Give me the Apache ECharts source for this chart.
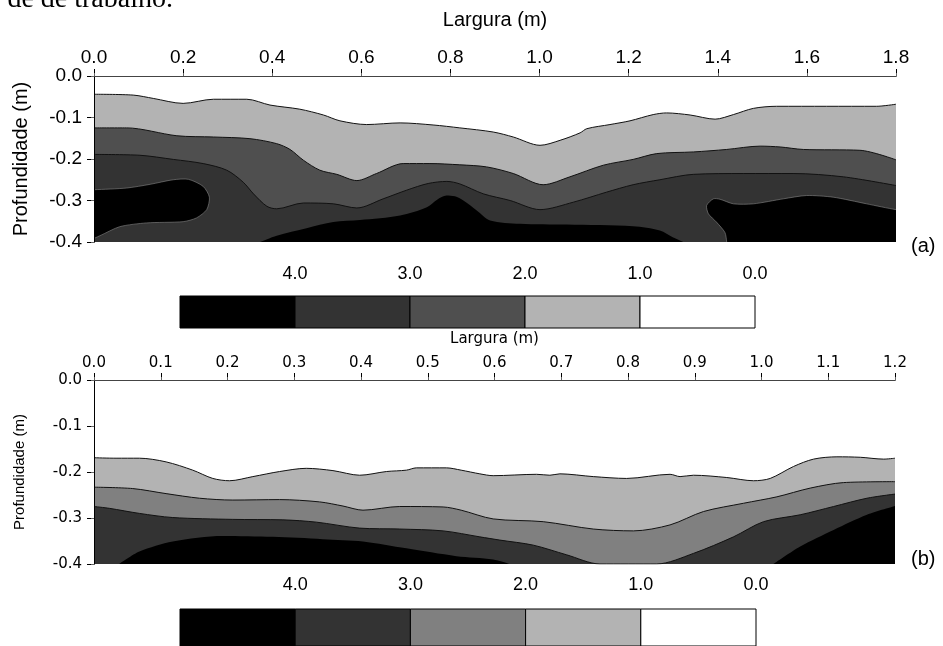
<!DOCTYPE html>
<html>
<head>
<meta charset="utf-8">
<script src="https://cdn.jsdelivr.net/npm/echarts@6/dist/echarts.min.js"></script>
<style>html,body{margin:0;padding:0;background:#fff}#c{width:943px;height:646px}</style>
</head>
<body>
<div id="c"></div>
<script>
// ---------- data: panel (a), contour boundaries [width (m), depth (m)] ----------
const aBound1 = [[0,-0.044],[0.088,-0.046],[0.133,-0.054],[0.2,-0.066],[0.268,-0.056],[0.343,-0.056],[0.395,-0.07],[0.462,-0.08],[0.515,-0.094],[0.552,-0.108],[0.612,-0.117],[0.687,-0.113],[0.761,-0.118],[0.821,-0.125],[0.896,-0.135],[0.941,-0.147],[1.001,-0.167],[1.046,-0.155],[1.091,-0.137],[1.106,-0.127],[1.158,-0.117],[1.203,-0.108],[1.255,-0.093],[1.285,-0.089],[1.338,-0.094],[1.394,-0.104],[1.435,-0.093],[1.48,-0.078],[1.532,-0.073],[1.644,-0.073],[1.756,-0.073],[1.8,-0.068]];
const aBound2 = [[0,-0.125],[0.073,-0.125],[0.186,-0.144],[0.268,-0.147],[0.35,-0.151],[0.41,-0.163],[0.44,-0.177],[0.47,-0.203],[0.507,-0.227],[0.545,-0.237],[0.59,-0.252],[0.634,-0.235],[0.694,-0.211],[0.754,-0.211],[0.821,-0.214],[0.881,-0.219],[0.941,-0.235],[1.008,-0.262],[1.068,-0.243],[1.143,-0.215],[1.21,-0.201],[1.263,-0.187],[1.345,-0.183],[1.42,-0.177],[1.495,-0.169],[1.54,-0.171],[1.592,-0.177],[1.719,-0.179],[1.8,-0.202]];
const aBound3 = [[0,-0.189],[0.103,-0.191],[0.178,-0.201],[0.245,-0.211],[0.298,-0.227],[0.335,-0.256],[0.358,-0.284],[0.388,-0.314],[0.41,-0.32],[0.47,-0.306],[0.537,-0.308],[0.59,-0.318],[0.649,-0.296],[0.702,-0.275],[0.75,-0.259],[0.792,-0.254],[0.821,-0.26],[0.874,-0.284],[0.934,-0.3],[1.001,-0.322],[1.076,-0.304],[1.15,-0.28],[1.21,-0.262],[1.27,-0.25],[1.345,-0.237],[1.457,-0.235],[1.569,-0.235],[1.682,-0.243],[1.8,-0.264]];
const aBlackMid = [[0.373,-0.4],[0.41,-0.385],[0.477,-0.367],[0.537,-0.352],[0.597,-0.347],[0.687,-0.336],[0.747,-0.316],[0.77,-0.298],[0.791,-0.288],[0.81,-0.29],[0.829,-0.3],[0.859,-0.324],[0.889,-0.348],[0.956,-0.356],[1.061,-0.358],[1.21,-0.362],[1.27,-0.372],[1.3,-0.389],[1.323,-0.4]];
// closed patches run past the frame (x < 0, x > 1.8, y < -0.4) and are clipped by the grid
const aBlobLeft = [[0,-0.274],[0.073,-0.27],[0.126,-0.261],[0.178,-0.25],[0.212,-0.249],[0.245,-0.266],[0.259,-0.292],[0.253,-0.322],[0.23,-0.342],[0.2,-0.351],[0.118,-0.354],[0.058,-0.363],[0.013,-0.385],[-0.01,-0.395],[-0.06,-0.4],[-0.06,-0.27],[-0.02,-0.274]];
const aBlobRight = [[1.42,-0.4],[1.416,-0.377],[1.397,-0.352],[1.379,-0.332],[1.375,-0.312],[1.39,-0.296],[1.405,-0.297],[1.435,-0.308],[1.48,-0.308],[1.547,-0.296],[1.599,-0.288],[1.659,-0.292],[1.734,-0.308],[1.8,-0.322],[1.86,-0.33],[1.86,-0.46],[1.6,-0.46],[1.423,-0.44]];

// ---------- data: panel (b) ----------
const bBound1 = [[0,-0.169],[0.033,-0.17],[0.068,-0.17],[0.108,-0.178],[0.148,-0.196],[0.178,-0.214],[0.203,-0.219],[0.238,-0.21],[0.278,-0.199],[0.318,-0.192],[0.358,-0.197],[0.398,-0.207],[0.438,-0.199],[0.468,-0.196],[0.483,-0.191],[0.528,-0.191],[0.55,-0.196],[0.578,-0.204],[0.598,-0.208],[0.663,-0.205],[0.683,-0.207],[0.698,-0.204],[0.748,-0.21],[0.798,-0.214],[0.863,-0.205],[0.878,-0.21],[0.898,-0.207],[0.948,-0.212],[0.988,-0.219],[1.013,-0.214],[1.048,-0.188],[1.078,-0.172],[1.113,-0.167],[1.148,-0.168],[1.183,-0.172],[1.2,-0.17]];
const bBound2 = [[0,-0.233],[0.058,-0.236],[0.108,-0.247],[0.158,-0.257],[0.208,-0.261],[0.278,-0.26],[0.338,-0.265],[0.373,-0.274],[0.403,-0.283],[0.458,-0.275],[0.523,-0.276],[0.55,-0.283],[0.598,-0.302],[0.673,-0.308],[0.748,-0.324],[0.808,-0.328],[0.863,-0.315],[0.913,-0.286],[0.973,-0.268],[1.023,-0.254],[1.073,-0.235],[1.123,-0.223],[1.2,-0.221]];
const bBound3 = [[0,-0.275],[0.023,-0.279],[0.068,-0.29],[0.118,-0.299],[0.208,-0.303],[0.283,-0.304],[0.333,-0.309],[0.398,-0.322],[0.458,-0.324],[0.523,-0.328],[0.578,-0.341],[0.608,-0.348],[0.658,-0.359],[0.708,-0.38],[0.758,-0.4],[0.843,-0.4],[0.898,-0.377],[0.958,-0.341],[1.003,-0.308],[1.058,-0.293],[1.108,-0.275],[1.158,-0.257],[1.2,-0.248]];
const bBlackLeft = [[0.038,-0.4],[0.068,-0.373],[0.118,-0.351],[0.193,-0.339],[0.268,-0.341],[0.343,-0.346],[0.403,-0.351],[0.468,-0.366],[0.543,-0.383],[0.598,-0.39],[0.623,-0.4]];
const bBlackRight = [[1.018,-0.4],[1.058,-0.362],[1.108,-0.326],[1.158,-0.293],[1.2,-0.274]];

// ---------- legend (colour scale) ----------
const levelLabels = ['4.0','3.0','2.0','1.0','0.0'];
const colorsA = ['#000000','#333333','#4f4f4f','#b3b3b3','#ffffff'];
const colorsB = ['#000000','#333333','#808080','#b3b3b3','#ffffff'];
const panelLabels = ['(a)','(b)'];
const axisTitleX = 'Largura (m)';
const axisTitleY = 'Profundidade (m)';
const captionFragment = 'de de trabalho.';

const chart = echarts.init(document.getElementById('c'), null, {renderer:'canvas'});

const FA = 'Liberation Sans, Arial, sans-serif';
const FB = 'DejaVu Sans, Verdana, sans-serif';
const FN = 'Liberation Sans Narrow, Arial Narrow, Liberation Sans, sans-serif';

function band(data, xi, yi, fill, w, z) {
  return {type:'line', xAxisIndex:xi, yAxisIndex:yi, data:data, smooth:0.3, symbol:'none', showSymbol:false, z:z,
    lineStyle:{color:'#111', width:w}, areaStyle:{color:fill, opacity:1, origin:'start'}, silent:true, animation:false};
}
// closed black patch: every vertex passes through the axes' scales (api.coord)
function blob(data, xi, yi) {
  return {type:'custom', xAxisIndex:xi, yAxisIndex:yi, clip:true, data:data.map((p,i)=>[p[0],p[1],i]), silent:true, animation:false, z:6,
    renderItem:function(params, api){
      if (params.dataIndex !== 0) return null;
      const pts = data.map(p => api.coord(p));
      return {type:'polygon', shape:{points:pts, smooth:0.25}, style:{fill:'#000', stroke:'#888', lineWidth:0.6}};
    }};
}
function colorbar(colors, xi, yi) {
  return {type:'custom', xAxisIndex:xi, yAxisIndex:yi, data:colors.map((c,i)=>[i,0]), silent:true, animation:false,
    renderItem:function(params, api){
      const i = api.value(0);
      const p0 = api.coord([i,1]), p1 = api.coord([i+1,0]);
      return {type:'rect', shape:{x:p0[0], y:p0[1], width:p1[0]-p0[0], height:p1[1]-p0[1]},
        style:{fill:colors[i], stroke:'#000', lineWidth:1}};
    }};
}
const fmt1 = v => (Math.abs(v) < 1e-9 ? 0 : v).toFixed(1);
const noSplit = {show:false};

const option = {
  animation:false,
  textStyle:{fontFamily:FA, color:'#000'},
  grid:[
    {left:94, top:76, width:802, height:166},
    {left:94, top:380, width:801, height:184},
    {left:180, top:296, width:575, height:32},
    {left:180, top:609, width:576, height:40}
  ],
  xAxis:[
    {gridIndex:0, type:'value', position:'top', min:0, max:1.8, interval:0.2, z:10,
      name:axisTitleX, nameLocation:'middle', nameGap:46, nameTextStyle:{fontSize:20, fontFamily:FA, color:'#000'},
      axisLine:{lineStyle:{color:'#000', width:1}}, axisTick:{inside:false, length:7, lineStyle:{color:'#000'}},
      axisLabel:{fontSize:19, fontFamily:FA, color:'#000', margin:9, formatter:fmt1}, splitLine:noSplit},
    {gridIndex:0, type:'value', position:'bottom', min:0, max:1.8, interval:0.2, z:10,
      axisLine:{lineStyle:{color:'#444', width:1}}, axisTick:{inside:true, length:3, lineStyle:{color:'#666'}},
      axisLabel:{show:false}, splitLine:noSplit},
    {gridIndex:1, type:'value', position:'top', min:0, max:1.2, interval:0.1, z:10,
      name:axisTitleX, nameLocation:'middle', nameGap:33, nameTextStyle:{fontSize:15, fontFamily:FB, color:'#000'},
      axisLine:{lineStyle:{color:'#000', width:1}}, axisTick:{inside:false, length:7, lineStyle:{color:'#000'}},
      axisLabel:{fontSize:15, fontFamily:FB, color:'#000', margin:9, formatter:fmt1}, splitLine:noSplit},
    {gridIndex:1, type:'value', position:'bottom', min:0, max:1.2, interval:0.1, z:10,
      axisLine:{lineStyle:{color:'#444', width:1}}, axisTick:{inside:true, length:3, lineStyle:{color:'#666'}},
      axisLabel:{show:false}, splitLine:noSplit},
    {gridIndex:2, type:'value', position:'top', min:0, max:5, interval:1,
      axisLine:{show:false}, axisTick:{show:false}, splitLine:noSplit,
      axisLabel:{fontSize:18, fontFamily:FN, color:'#000', margin:13, formatter:v => v>=1 ? levelLabels[v-1] : ''}},
    {gridIndex:3, type:'value', position:'top', min:0, max:5, interval:1,
      axisLine:{show:false}, axisTick:{show:false}, splitLine:noSplit,
      axisLabel:{fontSize:18, fontFamily:FN, color:'#000', margin:15, formatter:v => v>=1 ? levelLabels[v-1] : ''}}
  ],
  yAxis:[
    {gridIndex:0, type:'value', position:'left', min:-0.4, max:0, interval:0.1, z:10,
      name:axisTitleY, nameLocation:'middle', nameGap:63, nameRotate:90, nameTextStyle:{fontSize:20, fontFamily:FA, color:'#000'},
      axisLine:{show:true, lineStyle:{color:'#000', width:1}}, axisTick:{show:true, inside:false, length:7, lineStyle:{color:'#000'}},
      axisLabel:{fontSize:19, fontFamily:FA, color:'#000', margin:12, formatter:fmt1}, splitLine:noSplit},
    {gridIndex:0, type:'value', position:'right', min:-0.4, max:0, interval:0.1, z:10,
      axisLine:{show:true, lineStyle:{color:'#000', width:1}}, axisTick:{show:true, inside:true, length:3, lineStyle:{color:'#666'}},
      axisLabel:{show:false}, splitLine:noSplit},
    {gridIndex:1, type:'value', position:'left', min:-0.4, max:0, interval:0.1, z:10,
      name:axisTitleY, nameLocation:'middle', nameGap:67, nameRotate:90, nameTextStyle:{fontSize:15, fontFamily:FA, color:'#000'},
      axisLine:{show:true, lineStyle:{color:'#000', width:1}}, axisTick:{show:true, inside:false, length:7, lineStyle:{color:'#000'}},
      axisLabel:{fontSize:15, fontFamily:FB, color:'#000', margin:12, formatter:fmt1}, splitLine:noSplit},
    {gridIndex:1, type:'value', position:'right', min:-0.4, max:0, interval:0.1, z:10,
      axisLine:{show:true, lineStyle:{color:'#000', width:1}}, axisTick:{show:true, inside:true, length:3, lineStyle:{color:'#666'}},
      axisLabel:{show:false}, splitLine:noSplit},
    {gridIndex:2, type:'value', min:0, max:1, show:false},
    {gridIndex:3, type:'value', min:0, max:1, show:false}
  ],
  series:[
    band(aBound1, 0, 0, colorsA[3], 1, 2),
    band(aBound2, 0, 0, colorsA[2], 1, 3),
    band(aBound3, 0, 0, colorsA[1], 1, 4),
    band(aBlackMid, 0, 0, colorsA[0], 0, 5),
    blob(aBlobLeft, 0, 0),
    blob(aBlobRight, 0, 0),
    band(bBound1, 2, 2, colorsB[3], 1, 2),
    band(bBound2, 2, 2, colorsB[2], 1, 3),
    band(bBound3, 2, 2, colorsB[1], 1, 4),
    band(bBlackLeft, 2, 2, colorsB[0], 0, 5),
    band(bBlackRight, 2, 2, colorsB[0], 0, 5),
    colorbar(colorsA, 4, 4),
    colorbar(colorsB, 5, 5)
  ],
  graphic:[
    {type:'text', left:911, top:236, style:{text:panelLabels[0], font:'20px ' + FA, fill:'#000'}},
    {type:'text', left:911, top:549, style:{text:panelLabels[1], font:'20px ' + FA, fill:'#000'}},
    {type:'text', x:173, y:14, style:{text:captionFragment, font:'28px Liberation Serif, Times New Roman, serif', fill:'#000', align:'right', verticalAlign:'bottom'}}
  ]
};
chart.setOption(option);
</script>
</body>
</html>
